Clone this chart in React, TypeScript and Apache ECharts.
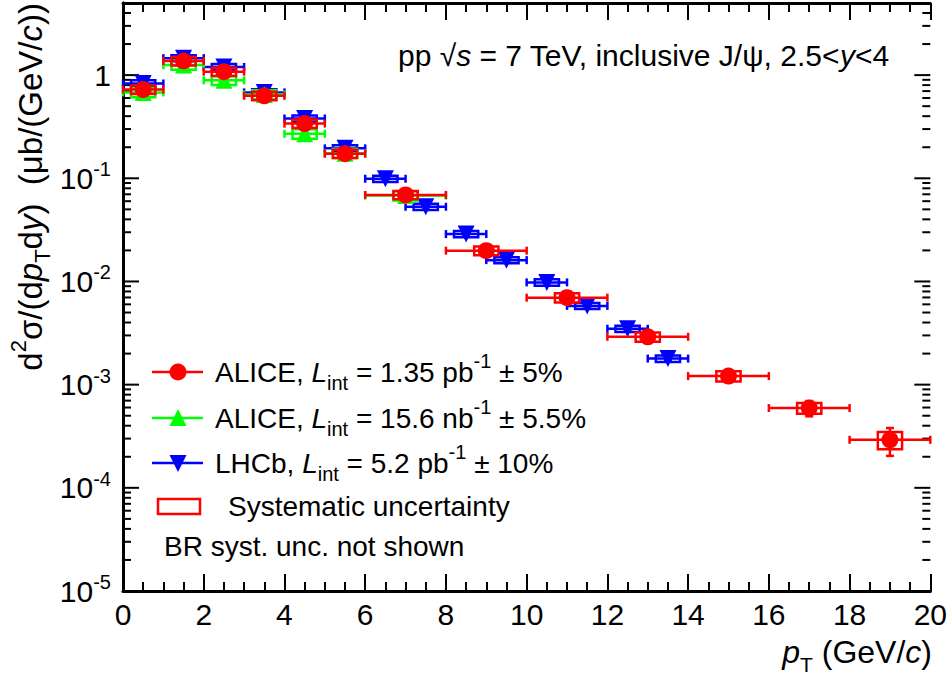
import React, { useEffect, useRef } from 'react';
import * as echarts from 'echarts';

// ALICE, L_int = 1.35 pb^-1
const aliceHighX = [0.5, 1.5, 2.5, 3.5, 4.5, 5.5, 7, 9, 11, 13, 15, 17, 19];
const aliceHighLo = [0, 1, 2, 3, 4, 5, 6, 8, 10, 12, 14, 16, 18];
const aliceHighHi = [1, 2, 3, 4, 5, 6, 8, 10, 12, 14, 16, 18, 20];
const aliceHighY = [0.725, 1.37, 1.08, 0.63, 0.339, 0.173, 0.069, 0.0199, 0.00697, 0.00291, 0.00121, 5.93e-4, 2.92e-4];
const aliceHighStat = [0.02, 0.03, 0.03, 0.02, 0.01, 0.005, 0.002, 0.0008, 0.0003, 0.00015, 0.00008, 0.0001, 0.000088];
const aliceHighSyst = [0.07, 0.13, 0.1, 0.06, 0.032, 0.016, 0.0065, 0.0019, 0.0007, 0.0003, 0.00014, 0.00007, 0.000055];

// ALICE, L_int = 15.6 nb^-1
const aliceLowX = [0.5, 1.5, 2.5, 3.5, 4.5, 5.5, 7];
const aliceLowLo = [0, 1, 2, 3, 4, 5, 6];
const aliceLowHi = [1, 2, 3, 4, 5, 6, 8];
const aliceLowY = [0.68, 1.25, 0.89, 0.65, 0.27, 0.175, 0.068];
const aliceLowStat = [0.02, 0.03, 0.02, 0.015, 0.008, 0.004, 0.002];
const aliceLowSyst = [0.07, 0.12, 0.09, 0.065, 0.028, 0.018, 0.007];

// LHCb, L_int = 5.2 pb^-1
const lhcbX = [0.5, 1.5, 2.5, 3.5, 4.5, 5.5, 6.5, 7.5, 8.5, 9.5, 10.5, 11.5, 12.5, 13.5];
const lhcbLo = [0, 1, 2, 3, 4, 5, 6, 7, 8, 9, 10, 11, 12, 13];
const lhcbHi = [1, 2, 3, 4, 5, 6, 7, 8, 9, 10, 11, 12, 13, 14];
const lhcbY = [0.83, 1.46, 1.2, 0.68, 0.38, 0.195, 0.099, 0.053, 0.0288, 0.0161, 0.0098, 0.0058, 0.00348, 0.00179];
const lhcbStat = [0.01, 0.02, 0.015, 0.01, 0.005, 0.003, 0.0015, 0.0008, 0.0005, 0.0003, 0.0002, 0.00012, 0.00008, 0.00005];
const lhcbSyst = [0.06, 0.1, 0.08, 0.05, 0.027, 0.014, 0.007, 0.0037, 0.002, 0.0011, 0.0007, 0.0004, 0.00025, 0.00013];

// y axis ticks (log, 1e-5 .. 5)
const yTickDecades = [-5, -4, -3, -2, -1, 0];
const yTickMultipliers = [1, 2, 3, 4, 5, 6, 7, 8, 9];
const yMin = 1e-5;
const yMax = 5;

const FONT = '"Liberation Sans", Arial, Helvetica, sans-serif';
const RED = '#ff0000';
const GREEN = '#00ff00';
const BLUE = '#0000ff';
const SYST_HALF = 0.3;
const CAP = 4;

const rows = (x: number[], lo: number[], hi: number[], y: number[], st: number[], sy: number[]) =>
  x.map((v, i) => [v, y[i], lo[i], hi[i], st[i], sy[i]]);

const errorSeries = (data: number[][], color: string, z: number) => ({
  type: 'custom',
  silent: true,
  z,
  clip: false,
  data,
  encode: { x: 0, y: 1 },
  renderItem: (_params: any, api: any) => {
    const x = api.value(0);
    const y = api.value(1);
    const lo = api.value(2);
    const hi = api.value(3);
    const st = api.value(4);
    const sy = api.value(5);
    const pl = api.coord([lo, y]);
    const ph = api.coord([hi, y]);
    const bl = api.coord([x - SYST_HALF, y - sy]);
    const tr = api.coord([x + SYST_HALF, y + sy]);
    const su = api.coord([x, y + st]);
    const sd = api.coord([x, y - st]);
    const ls = { stroke: color, lineWidth: 2.5 };
    return {
      type: 'group',
      children: [
        { type: 'rect', shape: { x: bl[0], y: tr[1], width: tr[0] - bl[0], height: bl[1] - tr[1] }, style: { fill: 'none', stroke: color, lineWidth: 2.5 } },
        { type: 'line', shape: { x1: pl[0], y1: pl[1], x2: ph[0], y2: ph[1] }, style: ls },
        { type: 'line', shape: { x1: pl[0], y1: pl[1] - CAP, x2: pl[0], y2: pl[1] + CAP }, style: ls },
        { type: 'line', shape: { x1: ph[0], y1: ph[1] - CAP, x2: ph[0], y2: ph[1] + CAP }, style: ls },
        { type: 'line', shape: { x1: su[0], y1: su[1], x2: sd[0], y2: sd[1] }, style: ls },
        { type: 'line', shape: { x1: su[0] - CAP, y1: su[1], x2: su[0] + CAP, y2: su[1] }, style: ls },
        { type: 'line', shape: { x1: sd[0] - CAP, y1: sd[1], x2: sd[0] + CAP, y2: sd[1] }, style: ls },
      ],
    };
  },
});

const markerSeries = (x: number[], y: number[], color: string, symbol: string, rotate: number, size: number, z: number) => ({
  type: 'scatter',
  silent: true,
  z,
  symbol,
  symbolRotate: rotate,
  symbolSize: size,
  itemStyle: { color, opacity: 1 },
  data: x.map((v, i) => [v, y[i]]),
});

const richText = {
  i: { fontStyle: 'italic', fontSize: 28, fontFamily: FONT, lineHeight: 42 },
  sub: { fontSize: 20, fontFamily: FONT, lineHeight: 24, verticalAlign: 'bottom' },
  sup: { fontSize: 20, fontFamily: FONT, lineHeight: 26, verticalAlign: 'top' },
};

const legendText = (x: number, y: number, text: string) => ({
  type: 'text',
  x,
  y,
  silent: true,
  style: { text, rich: richText, fontSize: 28, fontFamily: FONT, fill: '#000', lineHeight: 42, align: 'left', verticalAlign: 'middle' },
});

const App: React.FC = () => {
  const chartRef = useRef<HTMLDivElement>(null);

  useEffect(() => {
    if (!chartRef.current) return;
    const chart = echarts.init(chartRef.current, undefined, { renderer: 'svg' });

    const yTicks: number[][] = [];
    yTickDecades.forEach((d) => {
      yTickMultipliers.forEach((m) => {
        const v = m * Math.pow(10, d);
        if (v <= yMax * 1.0001) yTicks.push([0, v, m === 1 ? 1 : 0]);
      });
    });

    const xAxisBase = {
      type: 'value',
      min: 0,
      max: 20,
      interval: 2,
      splitLine: { show: false },
      axisLine: { show: true, onZero: false, lineStyle: { color: '#000', width: 3 } },
      axisTick: { show: true, inside: true, length: 17, lineStyle: { color: '#000', width: 2 } },
      minorTick: { show: true, splitNumber: 4, length: 9, lineStyle: { color: '#000', width: 2 } },
    };

    const options: any = {
      animation: false,
      grid: { left: 123, right: 17, top: 3, bottom: 93 },
      xAxis: [
        {
          ...xAxisBase,
          position: 'bottom',
          axisLabel: { show: true, color: '#000', fontSize: 30, fontFamily: FONT, margin: 8 },
        },
        { ...xAxisBase, position: 'top', axisLabel: { show: false } },
      ],
      yAxis: [
        {
          type: 'log',
          logBase: 10,
          min: yMin,
          max: yMax,
          position: 'left',
          splitLine: { show: false },
          axisLine: { show: true, lineStyle: { color: '#000', width: 3 } },
          axisTick: { show: false },
          axisLabel: {
            show: true,
            margin: 12,
            color: '#000',
            fontFamily: FONT,
            formatter: (v: number) => {
              const e = Math.log10(v);
              const r = Math.round(e);
              if (Math.abs(e - r) > 1e-6) return '';
              if (r === 0) return '{b|1}';
              return '{b|10}{s|' + r + '}';
            },
            rich: {
              b: { fontSize: 30, fontFamily: FONT, color: '#000', lineHeight: 38 },
              s: { fontSize: 20, fontFamily: FONT, color: '#000', lineHeight: 22, verticalAlign: 'top' },
            },
          },
        },
        {
          type: 'log',
          logBase: 10,
          min: yMin,
          max: yMax,
          position: 'right',
          splitLine: { show: false },
          axisLine: { show: true, lineStyle: { color: '#000', width: 3 } },
          axisTick: { show: false },
          axisLabel: { show: false },
        },
      ],
      series: [
        {
          type: 'custom',
          silent: true,
          z: 1,
          clip: false,
          data: yTicks,
          encode: { x: 0, y: 1 },
          renderItem: (params: any, api: any) => {
            const p = api.coord([0, api.value(1)]);
            const len = api.value(2) === 1 ? 16 : 8;
            const left = params.coordSys.x;
            const right = params.coordSys.x + params.coordSys.width;
            const ls = { stroke: '#000', lineWidth: 2 };
            return {
              type: 'group',
              children: [
                { type: 'line', shape: { x1: left, y1: p[1], x2: left + len, y2: p[1] }, style: ls },
                { type: 'line', shape: { x1: right, y1: p[1], x2: right - len, y2: p[1] }, style: ls },
              ],
            };
          },
        },
        errorSeries(rows(lhcbX, lhcbLo, lhcbHi, lhcbY, lhcbStat, lhcbSyst), BLUE, 2),
        markerSeries(lhcbX, lhcbY, BLUE, 'triangle', 180, 17, 3),
        errorSeries(rows(aliceLowX, aliceLowLo, aliceLowHi, aliceLowY, aliceLowStat, aliceLowSyst), GREEN, 4),
        markerSeries(aliceLowX, aliceLowY, GREEN, 'triangle', 0, 17, 5),
        errorSeries(rows(aliceHighX, aliceHighLo, aliceHighHi, aliceHighY, aliceHighStat, aliceHighSyst), RED, 6),
        markerSeries(aliceHighX, aliceHighY, RED, 'circle', 0, 17, 7),
      ],
      graphic: [
        // y axis title
        {
          type: 'text',
          x: 30,
          y: 3,
          rotation: Math.PI / 2,
          silent: true,
          style: {
            text: 'd{sup|2}σ/(d{i|p}{sub|T}d{i|y})  (μb/(GeV/{i|c}))',
            rich: {
              i: { fontStyle: 'italic', fontSize: 33, fontFamily: FONT, lineHeight: 46 },
              sub: { fontSize: 22, fontFamily: FONT, lineHeight: 26, verticalAlign: 'bottom' },
              sup: { fontSize: 22, fontFamily: FONT, lineHeight: 28, verticalAlign: 'top' },
            },
            fontSize: 33,
            fontFamily: FONT,
            lineHeight: 46,
            fill: '#000',
            align: 'right',
            verticalAlign: 'middle',
          },
        },
        // x axis title
        {
          type: 'text',
          x: 932,
          y: 652,
          silent: true,
          style: {
            text: '{i|p}{sub|T} (GeV/{i|c})',
            rich: {
              i: { fontStyle: 'italic', fontSize: 32, fontFamily: FONT, lineHeight: 46 },
              sub: { fontSize: 21, fontFamily: FONT, lineHeight: 26, verticalAlign: 'bottom' },
            },
            fontSize: 32,
            fontFamily: FONT,
            lineHeight: 46,
            fill: '#000',
            align: 'right',
            verticalAlign: 'middle',
          },
        },
        // top label
        {
          type: 'text',
          x: 398,
          y: 55,
          silent: true,
          style: {
            text: 'pp √{i|s} = 7 TeV, inclusive J/ψ, 2.5<{i|y}<4',
            rich: { i: { fontStyle: 'italic', fontSize: 30, fontFamily: FONT, lineHeight: 42 } },
            fontSize: 30,
            fontFamily: FONT,
            lineHeight: 42,
            fill: '#000',
            align: 'left',
            verticalAlign: 'middle',
          },
        },
        // legend
        { type: 'line', silent: true, shape: { x1: 152, y1: 372, x2: 203, y2: 372 }, style: { stroke: RED, lineWidth: 2.5 } },
        { type: 'circle', silent: true, shape: { cx: 178, cy: 372, r: 8.5 }, style: { fill: RED } },
        legendText(215, 372, 'ALICE, {i|L}{sub|int} = 1.35 pb{sup|-1} ± 5%'),
        { type: 'line', silent: true, shape: { x1: 152, y1: 418, x2: 203, y2: 418 }, style: { stroke: GREEN, lineWidth: 2.5 } },
        { type: 'polygon', silent: true, shape: { points: [[178, 409], [186.5, 426], [169.5, 426]] }, style: { fill: GREEN } },
        legendText(215, 418, 'ALICE, {i|L}{sub|int} = 15.6 nb{sup|-1} ± 5.5%'),
        { type: 'line', silent: true, shape: { x1: 152, y1: 463, x2: 203, y2: 463 }, style: { stroke: BLUE, lineWidth: 2.5 } },
        { type: 'polygon', silent: true, shape: { points: [[178, 472], [186.5, 455], [169.5, 455]] }, style: { fill: BLUE } },
        legendText(215, 463, 'LHCb, {i|L}{sub|int} = 5.2 pb{sup|-1} ± 10%'),
        { type: 'rect', silent: true, shape: { x: 158, y: 499, width: 42, height: 15 }, style: { fill: 'none', stroke: RED, lineWidth: 2.5 } },
        legendText(228, 506, 'Systematic uncertainty'),
        legendText(164, 546, 'BR syst. unc. not shown'),
      ],
    };

    chart.setOption(options);

    return () => {
      chart.dispose();
    };
  }, []);

  return <div ref={chartRef} style={{ width: 950, height: 684, position: 'absolute', left: 0, top: 0 }} />;
};

export default App;
